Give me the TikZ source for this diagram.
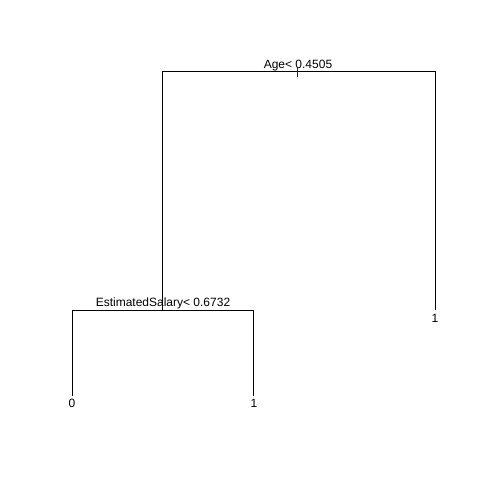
\documentclass[tikz,border=0pt]{standalone}
\usepackage{fontspec}
\setmainfont{Liberation Sans}
\begin{document}
\begin{tikzpicture}[x=0.75pt,y=-0.75pt,
  lbl/.style={inner sep=0pt,font=\fontsize{9}{10}\selectfont,text=black},
  edge/.style={draw=black,line width=0.75pt},
  tick/.style={draw={rgb,255:red,90;green,0;blue,90},line width=0.75pt}]
\useasboundingbox (0,0) rectangle (480,480);
% split points
\coordinate (r) at (298,67);
\coordinate (rL) at (163,71);
\coordinate (rR) at (436,71);
\coordinate (s) at (163,310);
\coordinate (sL) at (73,310);
\coordinate (sR) at (254,310);
\coordinate (rt) at (298,77);
% leaf ends
\coordinate (eR) at (436,310);
\coordinate (e0) at (73,396);
\coordinate (e1) at (254,396);
% labels
\node[lbl,anchor=base] (la) at (298,68) {Age< 0.4505};
\node[lbl,anchor=base] (lb) at (163,306) {EstimatedSalary< 0.6732};
\node[lbl,anchor=base] (n1) at (435,322) {1};
\node[lbl,anchor=base] (n0) at (72,407) {0};
\node[lbl,anchor=base] (n2) at (254,407) {1};
% edges
\draw[edge] (s) -- (rL) -- (rR) -- (eR);
\draw[edge] (e0) -- (sL) -- (sR) -- (e1);
\draw[tick] (r) -- (rt);
\end{tikzpicture}
\end{document}
